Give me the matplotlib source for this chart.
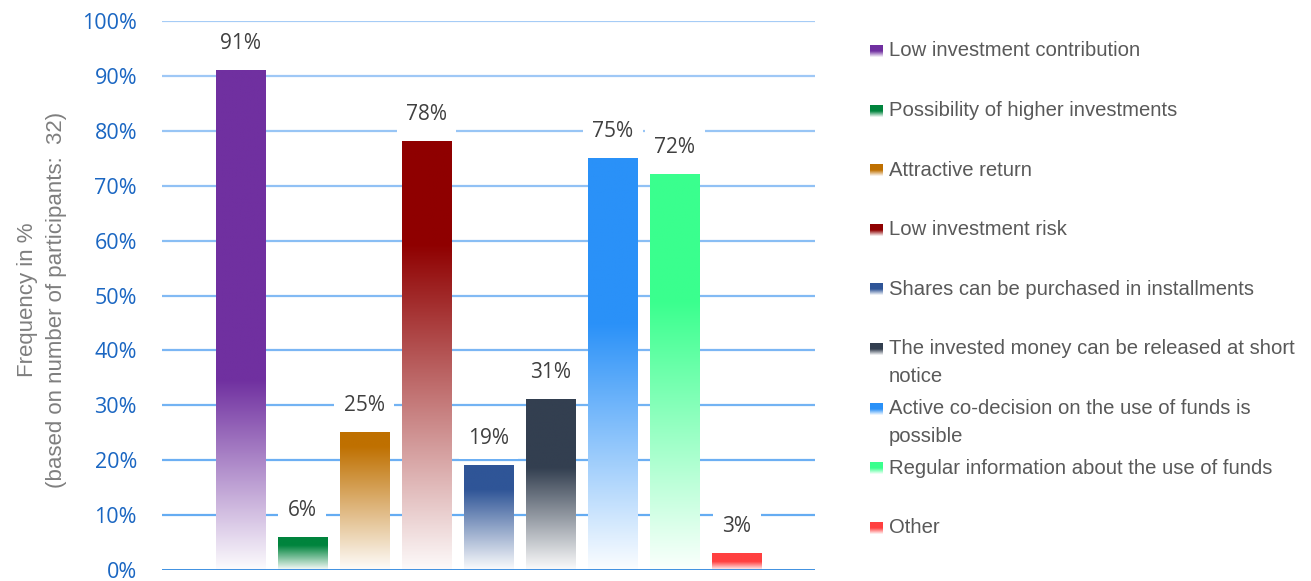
import numpy as np
import matplotlib.pyplot as plt
from matplotlib.colors import to_rgb, LinearSegmentedColormap

# survey answers, share of participants per motive
categories = [
    "Low investment contribution",
    "Possibility of higher investments",
    "Attractive return",
    "Low investment risk",
    "Shares can be purchased in installments",
    "The invested money can be released at short\nnotice",
    "Active co-decision on the use of funds is\npossible",
    "Regular information about the use of funds",
    "Other",
]
values = [91, 6, 25, 78, 19, 31, 75, 72, 3]
colors = ["#7030A0", "#00843D", "#BF7000", "#8F0000", "#2F5597",
          "#333F50", "#2A91F8", "#3AFF8E", "#FF4040"]
# top part of each bar kept at full colour before it fades to white
solid_part = [0.62, 0.25, 0.1, 0.24, 0.23, 0.4, 0.4, 0.32, 0.5]
yticks = list(range(0, 101, 10))

W, H = 1311, 581
fig = plt.figure(figsize=(W / 100, H / 100), dpi=100)
ax = fig.add_axes([162 / W, 11 / H, 653 / W, 549 / H])

x = np.arange(len(values))
bars = ax.bar(x, values, width=0.79, facecolor="none", edgecolor="none", zorder=3)


def fade(color, solid, n=256):
    t = np.linspace(0, 1, n)[:, None]
    mix = np.clip(t / (1 - solid), 0, 1) * 0.98 + 0.02
    rgb = np.array(to_rgb(color))[None, :]
    img = (1 - mix) * 1.0 + mix * rgb
    return img[:, None, :]


for rect, c, s in zip(bars, colors, solid_part):
    x0, w, h = rect.get_x(), rect.get_width(), rect.get_height()
    ax.imshow(fade(c, s), origin="lower", aspect="auto",
              extent=[x0, x0 + w, 0, h], zorder=3, interpolation="bilinear")

for xi, v in zip(x, values):
    ax.annotate(f"{v}%", (xi, v), xytext=(0, 27), textcoords="offset pixels",
                ha="center", va="center", fontsize=15, family="Open Sans",
                color="#404040", zorder=5,
                bbox=dict(boxstyle="square,pad=0.45", fc="white", ec="none"))

# horizontal grid, lighter towards the top
grid_cols = LinearSegmentedColormap.from_list("grid", ["#5EA8F2", "#A6CCF6"])
for yv in yticks[1:]:
    ax.axhline(yv, color=grid_cols(yv / 100), lw=1.6, zorder=1)
ax.axhline(0, color="#2E86DE", lw=2, zorder=4)

ax.set_xlim(-1.26, len(values) - 1 + 1.26)
ax.set_ylim(0, 100)
ax.set_yticks(yticks)
ax.set_yticklabels([f"{t}%" for t in yticks], family="Open Sans",
                   fontsize=15.5, color="#1A66C2")
ax.tick_params(axis="y", length=0, pad=18)
ax.set_xticks([])
for sp in ax.spines.values():
    sp.set_visible(False)

# overlay in pixel coordinates for the legend and axis title
lax = fig.add_axes([0, 0, 1, 1])
lax.set_xlim(0, W)
lax.set_ylim(H, 0)
lax.axis("off")

lab_font = "Liberation Sans"
lax.text(42, 300, "Frequency in %\n(based on number of participants:  32)",
         rotation=90, ha="center", va="center", multialignment="center",
         fontsize=16, family=lab_font, color="#7F7F7F", linespacing=1.45)

for i, (name, c) in enumerate(zip(categories, colors)):
    y = 51 + i * 59.6
    lax.imshow(fade(c, 0.5), origin="lower", aspect="auto",
               extent=[870, 883, y + 6, y - 6], interpolation="bilinear")
    for j, line in enumerate(name.split("\n")):
        lax.text(889, y + j * 27.5, line, ha="left", va="center",
                 fontsize=14.6, family=lab_font, color="#595959")
lax.set_xlim(0, W)
lax.set_ylim(H, 0)

fig.savefig("out.png", dpi=100, facecolor="white")
